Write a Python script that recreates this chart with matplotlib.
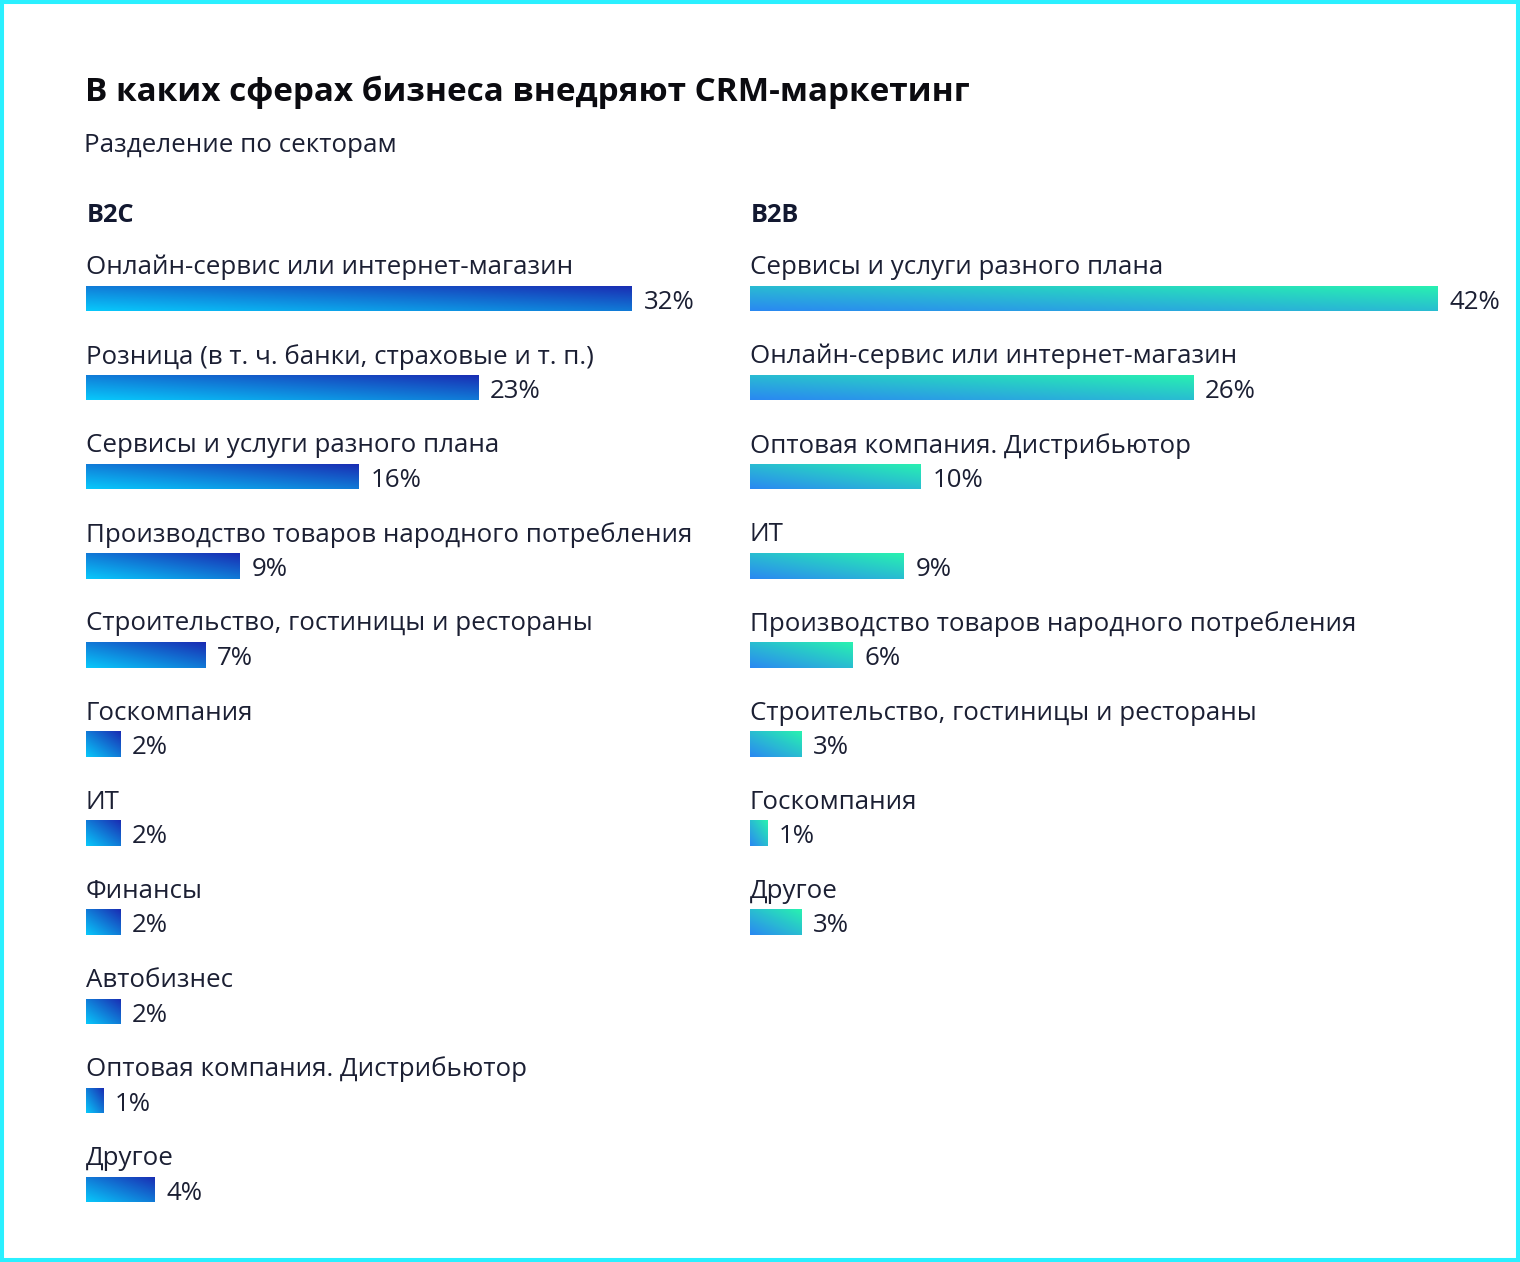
import numpy as np
import matplotlib
matplotlib.use("Agg")
import matplotlib.pyplot as plt
from matplotlib.colors import LinearSegmentedColormap
from matplotlib.patches import Rectangle

plt.rcParams['font.family'] = ['Open Sans', 'DejaVu Sans']

# data
b2c_labels = ["Онлайн-сервис или интернет-магазин",
              "Розница (в т. ч. банки, страховые и т. п.)",
              "Сервисы и услуги разного плана",
              "Производство товаров народного потребления",
              "Строительство, гостиницы и рестораны",
              "Госкомпания", "ИТ", "Финансы", "Автобизнес",
              "Оптовая компания. Дистрибьютор", "Другое"]
b2c_values = [32, 23, 16, 9, 7, 2, 2, 2, 2, 1, 4]

b2b_labels = ["Сервисы и услуги разного плана",
              "Онлайн-сервис или интернет-магазин",
              "Оптовая компания. Дистрибьютор",
              "ИТ",
              "Производство товаров народного потребления",
              "Строительство, гостиницы и рестораны",
              "Госкомпания", "Другое"]
b2b_values = [42, 26, 10, 9, 6, 3, 1, 3]

W, H = 1520, 1262
fig = plt.figure(figsize=(W / 100, H / 100), dpi=100)
fig.patch.set_facecolor("white")

TXT = "#1b1f33"
PITCH = 89.1      # px between rows
ROW0 = 298.5      # px centre of first bar
PX_PER_PCT = 17.05
BAR_H = 25.5 / PITCH
DY = 2 / PITCH    # small downward nudge for text

cmap_b2c = LinearSegmentedColormap.from_list("b2c", ["#08c8fb", "#1a2bb2"])
cmap_b2b = LinearSegmentedColormap.from_list("b2b", ["#2a88f2", "#28f2b0"])


def panel(x0, xmax, labels, values, cmap, head):
    top_row, bot_row = -0.8, 10.7
    top_px = ROW0 + top_row * PITCH
    bot_px = ROW0 + bot_row * PITCH
    ax = fig.add_axes([x0 / W, 1 - bot_px / H, xmax * PX_PER_PCT / W, (bot_px - top_px) / H])
    ax.axis("off")
    rows = np.arange(len(values))
    bars = ax.barh(rows, values, height=BAR_H, color="none", edgecolor="none")
    nr, nc = 40, 200
    u = np.linspace(0, 1, nc)[None, :]
    v = np.linspace(1, 0, nr)[:, None]
    z = (u * 0.5 + v * 0.5)
    for b, val, r in zip(bars, values, rows):
        shown = min(val, xmax)   # longest bar is cut at the panel edge
        im = ax.imshow(z, cmap=cmap, vmin=0, vmax=1, aspect="auto", origin="upper",
                       extent=(0, shown, r + BAR_H / 2, r - BAR_H / 2), interpolation="bilinear")
        im.set_clip_path(b)
        ax.text(0, r - 0.37 + DY, labels[r], fontsize=18.65, color=TXT, va="center", ha="left")
        ax.text(shown + 0.7, r + 0.02 + DY, f"{val}%", fontsize=18.65, color=TXT,
                va="center", ha="left")
    ax.set_xlim(0, xmax)
    ax.set_ylim(bot_row, top_row)
    fig.text((x0 + 0.5) / W, 1 - 215 / H, head, fontsize=18.3, fontweight="bold",
             color="#121830", va="center", ha="left")
    return ax


panel(86, 40, b2c_labels, b2c_values, cmap_b2c, "B2C")
panel(750, 40.35, b2b_labels, b2b_values, cmap_b2b, "B2B")

fig.text(85 / W, 1 - 92 / H, "В каких сферах бизнеса внедряют CRM-маркетинг",
         fontsize=23.95, fontweight="bold", color="#0b0b10", va="center", ha="left")
fig.text(84 / W, 1 - 145 / H, "Разделение по секторам", fontsize=18.7,
         color=TXT, va="center", ha="left")

fig.patches.append(Rectangle((0, 0), 1, 1, transform=fig.transFigure, fill=False,
                             edgecolor="#2af0ff", linewidth=5.8))

fig.savefig("out.png", dpi=100)
